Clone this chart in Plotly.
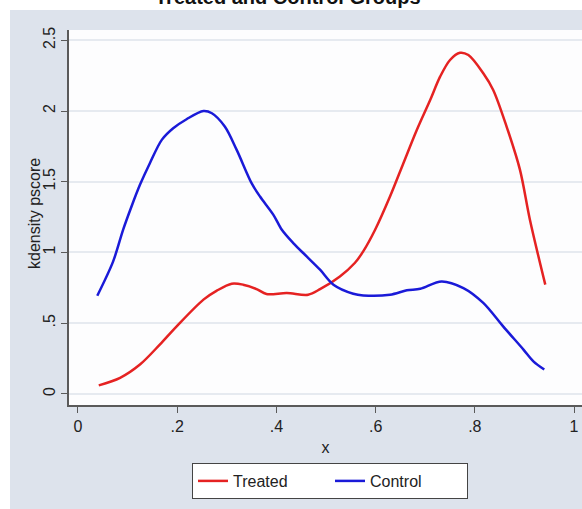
import plotly.graph_objects as go

# ---- data ----
treated_x = [0.042, 0.085, 0.125, 0.165, 0.199, 0.253, 0.280, 0.310, 0.333, 0.360,
             0.380, 0.421, 0.464, 0.488, 0.528, 0.558, 0.575, 0.599, 0.629, 0.656,
             0.683, 0.710, 0.730, 0.750, 0.770, 0.787, 0.817, 0.837, 0.864, 0.891,
             0.911, 0.942]
treated_y = [0.060, 0.113, 0.207, 0.348, 0.477, 0.666, 0.730, 0.779, 0.772, 0.741,
             0.706, 0.713, 0.701, 0.740, 0.830, 0.925, 1.007, 1.160, 1.395, 1.631,
             1.866, 2.078, 2.243, 2.361, 2.412, 2.396, 2.267, 2.149, 1.890, 1.584,
             1.231, 0.772]

control_x = [0.039, 0.071, 0.091, 0.108, 0.125, 0.145, 0.169, 0.192, 0.219, 0.253,
             0.270, 0.296, 0.320, 0.350, 0.367, 0.394, 0.411, 0.434, 0.461, 0.488,
             0.515, 0.555, 0.575, 0.629, 0.663, 0.690, 0.733, 0.777, 0.817, 0.857,
             0.898, 0.918, 0.940]
control_y = [0.694, 0.937, 1.160, 1.325, 1.478, 1.631, 1.796, 1.878, 1.942, 2.000,
             1.984, 1.890, 1.725, 1.490, 1.395, 1.266, 1.160, 1.066, 0.972, 0.878,
             0.772, 0.708, 0.696, 0.701, 0.732, 0.743, 0.795, 0.748, 0.643, 0.477,
             0.313, 0.230, 0.172]

x_ticks = [0, 0.2, 0.4, 0.6, 0.8, 1]
x_tick_labels = ["0", ".2", ".4", ".6", ".8", "1"]
y_ticks = [0, 0.5, 1, 1.5, 2, 2.5]
y_tick_labels = ["0", ".5", "1", "1.5", "2", "2.5"]

title_text = "Treated and Control Groups"
x_title = "x"
y_title = "kdensity pscore"

# ---- figure ----
W, H = 582, 509
ML, MR, MT, MB = 69, 0, 30, 104
PW, PH = W - ML - MR, H - MT - MB

def px_to_paper_x(px):
    return (px - ML) / PW

def py_to_paper_y(py):
    return 1 - (py - MT) / PH

BG = "#dde3ec"
FONT = "Liberation Sans, Arial, sans-serif"
TXT = "#222222"

fig = go.Figure()
fig.add_trace(go.Scatter(x=treated_x, y=treated_y, mode="lines", name="Treated",
                         line=dict(color="#e52222", width=2.5, shape="spline", smoothing=0.9)))
fig.add_trace(go.Scatter(x=control_x, y=control_y, mode="lines", name="Control",
                         line=dict(color="#1a1ad8", width=2.5, shape="spline", smoothing=0.9)))

fig.update_layout(
    width=W, height=H,
    margin=dict(l=ML, r=MR, t=MT, b=MB, pad=0),
    paper_bgcolor=BG,
    plot_bgcolor="#fdfdfe",
    font=dict(family=FONT, size=16, color=TXT),
    showlegend=True,
    legend=dict(
        orientation="h",
        x=px_to_paper_x(330), xanchor="center",
        y=py_to_paper_y(463), yanchor="top",
        bgcolor="white", bordercolor="#444444", borderwidth=1,
        font=dict(family=FONT, size=16, color=TXT),
        entrywidth=92, entrywidthmode="pixels",
    ),
    xaxis=dict(
        range=[-0.018, 1.016],
        tickvals=x_ticks, ticktext=x_tick_labels,
        showgrid=False, zeroline=False,
        showline=True, linecolor="#5a5a5a", linewidth=1.5,
        ticks="outside", ticklen=6, tickcolor="#5a5a5a", tickwidth=1.2,
        tickfont=dict(family=FONT, size=16, color=TXT),
        title=dict(text=x_title, font=dict(family=FONT, size=16, color=TXT), standoff=8),
    ),
    yaxis=dict(
        range=[-0.079, 2.573],
        tickvals=y_ticks, ticktext=y_tick_labels,
        tickangle=-90,
        showgrid=True, gridcolor="#e6eaf0", gridwidth=1.5,
        zeroline=False,
        showline=True, linecolor="#5a5a5a", linewidth=1.5,
        ticks="outside", ticklen=6, tickcolor="#5a5a5a", tickwidth=1.2,
        tickfont=dict(family=FONT, size=16, color=TXT),
    ),
    shapes=[
        dict(type="rect", xref="paper", yref="paper",
             x0=px_to_paper_x(0), x1=px_to_paper_x(W),
             y0=py_to_paper_y(10), y1=py_to_paper_y(0),
             fillcolor="white", line=dict(width=0), layer="below"),
        dict(type="rect", xref="paper", yref="paper",
             x0=px_to_paper_x(0), x1=px_to_paper_x(10),
             y0=py_to_paper_y(H), y1=py_to_paper_y(0),
             fillcolor="white", line=dict(width=0), layer="below"),
    ],
    annotations=[
        dict(text="<b>" + title_text + "</b>", xref="paper", yref="paper",
             x=px_to_paper_x(288), y=py_to_paper_y(-3), xanchor="center", yanchor="middle",
             showarrow=False, font=dict(family=FONT, size=20, color="#111111")),
        dict(text=y_title, xref="paper", yref="paper",
             x=px_to_paper_x(35), y=py_to_paper_y(214), xanchor="center", yanchor="middle",
             textangle=-90, showarrow=False, font=dict(family=FONT, size=16, color=TXT)),
    ],
)

fig.write_html("out.html")
